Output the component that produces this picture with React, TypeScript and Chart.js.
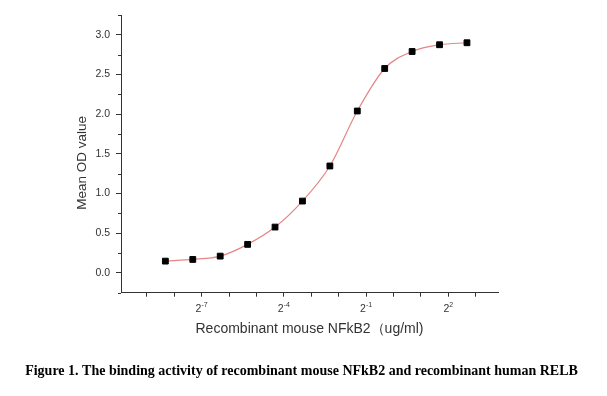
import { useEffect, useRef } from 'react';
import { Chart, registerables } from 'chart.js';

Chart.register(...registerables);

// ---- data ----
const CONCENTRATIONS = [0.003125, 0.00625, 0.0125, 0.025, 0.05, 0.1, 0.2, 0.4, 0.8, 1.6, 3.2, 6.4];
const MEAN_OD = [0.148, 0.169, 0.211, 0.359, 0.577, 0.905, 1.347, 2.04, 2.576, 2.79, 2.875, 2.9];

const X_TICK_EXPONENTS = [-9, -8, -7, -6, -5, -4, -3, -2, -1, 0, 1, 2, 3];
const X_LABEL_EXPONENTS = [-7, -4, -1, 2];
const X_MIN_EXP = -9.94;
const X_MAX_EXP = 3.81;

const Y_MAJOR_TICKS = [0, 0.5, 1, 1.5, 2, 2.5, 3];
const Y_MINOR_TICKS = [-0.25, 0.25, 0.75, 1.25, 1.75, 2.25, 2.75, 3.25];
const Y_MIN = -0.25;
const Y_MAX = 3.25;

const X_TITLE = 'Recombinant mouse NFkB2\uFF08ug/ml)';
const Y_TITLE = 'Mean OD value';
const CAPTION = 'Figure 1. The binding activity of recombinant mouse NFkB2 and recombinant human RELB';

const AXIS_COLOR = '#333333';
const TEXT_COLOR = '#333333';
const CURVE_COLOR = '#e58585';
const SANS = '"Liberation Sans", Arial, sans-serif';

const decorPlugin = {
  id: 'decor',
  afterDraw(chart: any) {
    const ctx = chart.ctx as CanvasRenderingContext2D;
    const xs = chart.scales.x;
    const ys = chart.scales.y;
    const area = chart.chartArea;
    ctx.save();
    // minor y ticks
    ctx.strokeStyle = AXIS_COLOR;
    ctx.lineWidth = 1;
    ctx.beginPath();
    for (const v of Y_MINOR_TICKS) {
      const y = Math.round(ys.getPixelForValue(v)) + 0.5;
      ctx.moveTo(area.left - 3, y);
      ctx.lineTo(area.left, y);
    }
    ctx.stroke();

    // x tick labels with superscript exponents
    ctx.fillStyle = TEXT_COLOR;
    ctx.textBaseline = 'alphabetic';
    ctx.textAlign = 'left';
    for (const e of X_LABEL_EXPONENTS) {
      const x = xs.getPixelForValue(Math.pow(2, e));
      const baseFont = `10.5px ${SANS}`;
      const expFont = `7px ${SANS}`;
      ctx.font = baseFont;
      const bw = ctx.measureText('2').width;
      ctx.font = expFont;
      const expText = String(e);
      const ew = ctx.measureText(expText).width;
      const start = x - (bw + ew) / 2;
      const baseY = area.bottom + 19.5;
      ctx.font = baseFont;
      ctx.fillText('2', start, baseY);
      ctx.font = expFont;
      ctx.fillText(expText, start + bw, baseY - 5);
    }

    // y axis title
    ctx.save();
    ctx.translate(82, (area.top + area.bottom) / 2 + 9);
    ctx.rotate(-Math.PI / 2);
    ctx.textAlign = 'center';
    ctx.textBaseline = 'middle';
    ctx.font = `13.5px ${SANS}`;
    ctx.fillStyle = TEXT_COLOR;
    ctx.fillText(Y_TITLE, 0, 0);
    ctx.restore();

    // caption
    ctx.fillStyle = '#000000';
    ctx.textAlign = 'center';
    ctx.textBaseline = 'alphabetic';
    ctx.font = `bold 14px "Liberation Serif", "Times New Roman", serif`;
    ctx.fillText(CAPTION, 301.5, 375);
    ctx.restore();
  },
};

export default function App() {
  const canvasRef = useRef<HTMLCanvasElement | null>(null);

  useEffect(() => {
    const canvas = canvasRef.current;
    if (!canvas) return;
    const points = CONCENTRATIONS.map((c, i) => ({ x: c, y: MEAN_OD[i] }));
    const chart = new Chart(canvas, {
      type: 'line',
      data: {
        datasets: [
          {
            label: 'points',
            data: points,
            showLine: false,
            pointStyle: 'rect',
            pointRadius: 4.1,
            pointBackgroundColor: '#000000',
            pointBorderColor: '#000000',
            pointBorderWidth: 1,
            order: 0,
          },
          {
            label: 'fit',
            data: points,
            borderColor: CURVE_COLOR,
            borderWidth: 1.2,
            pointRadius: 0,
            cubicInterpolationMode: 'monotone',
            fill: false,
            order: 1,
          },
        ],
      },
      options: {
        responsive: false,
        animation: false,
        devicePixelRatio: 1,
        events: [],
        layout: { padding: { left: 0, top: 15, right: 109, bottom: 28.8 } },
        plugins: {
          legend: { display: false },
          title: { display: false },
          tooltip: { enabled: false },
        },
        scales: {
          x: {
            type: 'logarithmic',
            min: Math.pow(2, X_MIN_EXP),
            max: Math.pow(2, X_MAX_EXP),
            afterBuildTicks: (scale: any) => {
              scale.ticks = X_TICK_EXPONENTS.map((e) => ({ value: Math.pow(2, e) }));
            },
            afterFit: (scale: any) => {
              scale.height = 74.5;
            },
            ticks: { display: false },
            grid: {
              display: true,
              drawOnChartArea: false,
              drawTicks: true,
              tickLength: 4,
              color: AXIS_COLOR,
              lineWidth: 1,
            },
            border: { display: true, color: AXIS_COLOR, width: 1 },
            title: {
              display: true,
              text: X_TITLE,
              color: TEXT_COLOR,
              font: { family: SANS, size: 14 },
              padding: { top: 0, bottom: 29.3 },
            },
          },
          y: {
            type: 'linear',
            min: Y_MIN,
            max: Y_MAX,
            afterBuildTicks: (scale: any) => {
              scale.ticks = Y_MAJOR_TICKS.map((v) => ({ value: v }));
            },
            afterFit: (scale: any) => {
              scale.width = 121;
            },
            ticks: {
              color: TEXT_COLOR,
              font: { family: SANS, size: 10.5 },
              padding: 6,
              callback: (v: any) => Number(v).toFixed(1),
            },
            grid: {
              display: true,
              drawOnChartArea: false,
              drawTicks: true,
              tickLength: 5,
              color: AXIS_COLOR,
              lineWidth: 1,
            },
            border: { display: true, color: AXIS_COLOR, width: 1 },
            title: { display: false },
          },
        },
      },
      plugins: [decorPlugin],
    } as any);
    return () => chart.destroy();
  }, []);

  return (
    <div style={{ position: 'fixed', left: 0, top: 0, width: 607, height: 396, background: '#ffffff' }}>
      <canvas ref={canvasRef} width={607} height={396} style={{ display: 'block' }} />
    </div>
  );
}
